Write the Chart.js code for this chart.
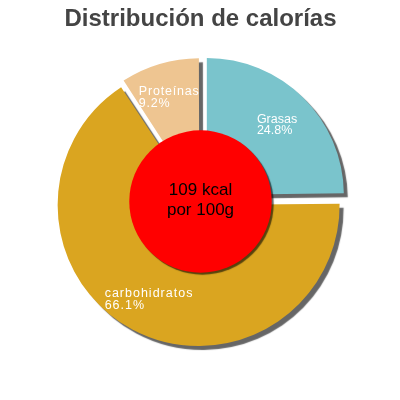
<!DOCTYPE html>
<html><head><meta charset="utf-8">
<script src="https://cdn.jsdelivr.net/npm/chart.js@4/dist/chart.umd.min.js"></script>
<style>html,body{margin:0;padding:0;background:#fff}#wrap{width:400px;height:400px}</style>
</head><body><div id="wrap"><canvas id="c" width="400" height="400"></canvas></div>
<script>
const categories = ['Grasas', 'carbohidratos', 'Proteínas'];
const percentages = [24.8, 66.1, 9.2];
const sliceColors = ['#7AC4CC', '#DAA520', '#EEC591'];
const sliceOffsets = [36, 16, 18];
const labelSpacing = [0, 1, 0.8];
const labelRadius = [0.73, 0.77, 0.77];
const centerLines = ['109 kcal', 'por 100g'];
const titleText = 'Distribución de calorías';

const FONT = '"Liberation Sans", Arial, sans-serif';

const decorPlugin = {
  id: 'decor',
  beforeDatasetsDraw(chart) {
    const ctx = chart.ctx;
    ctx.save();
    ctx.shadowColor = 'rgba(0,0,0,0.6)';
    ctx.shadowOffsetX = 4;
    ctx.shadowOffsetY = 4;
    ctx.shadowBlur = 1;
  },
  afterDatasetsDraw(chart) {
    const ctx = chart.ctx;
    ctx.restore();
    const meta = chart.getDatasetMeta(0);
    const arcs = meta.data;
    if (!arcs.length) return;
    const cx = arcs[0].x, cy = arcs[0].y, R = arcs[0].outerRadius;

    // slice labels
    arcs.forEach((arc, i) => {
      const mid = (arc.startAngle + arc.endAngle) / 2;
      const off = (arc.options.offset || 0) / 4;
      const ax = arc.x + Math.cos(mid) * off;
      const ay = arc.y + Math.sin(mid) * off;
      const r = R * labelRadius[i];
      const lx = ax + Math.cos(mid) * r;
      const ly = ay + Math.sin(mid) * r;
      const lines = [categories[i], percentages[i].toFixed(1) + '%'];
      ctx.save();
      ctx.font = '12.5px ' + FONT;
      ctx.fillStyle = '#ffffff';
      ctx.textAlign = 'left';
      ctx.textBaseline = 'alphabetic';
      ctx.letterSpacing = labelSpacing[i] + 'px';
      const w = Math.max(...lines.map(t => ctx.measureText(t).width));
      const left = lx - w / 2;
      ctx.fillText(lines[0], left, ly - 1);
      ctx.fillText(lines[1], left, ly + 10.5);
      ctx.restore();
    });

    // center circle
    ctx.save();
    ctx.shadowColor = 'rgba(0,0,0,0.6)';
    ctx.shadowOffsetX = 2;
    ctx.shadowOffsetY = 2;
    ctx.shadowBlur = 1;
    ctx.beginPath();
    ctx.arc(cx, cy, R * 0.52, 0, Math.PI * 2);
    ctx.fillStyle = '#FF0000';
    ctx.fill();
    ctx.restore();

    ctx.save();
    ctx.font = '17px ' + FONT;
    ctx.fillStyle = '#000000';
    ctx.textAlign = 'center';
    ctx.textBaseline = 'alphabetic';
    ctx.fillText(centerLines[0], cx, cy - 6.5);
    ctx.fillText(centerLines[1], cx, cy + 13.5);
    ctx.restore();
  }
};

new Chart(document.getElementById('c'), {
  type: 'pie',
  data: {
    labels: categories,
    datasets: [{
      data: percentages,
      backgroundColor: sliceColors,
      borderWidth: 0,
      offset: sliceOffsets,
      radius: 137
    }]
  },
  options: {
    responsive: false,
    animation: false,
    layout: { padding: { top: 5, bottom: 30.8, left: 1, right: 0 } },
    plugins: {
      legend: { display: false },
      tooltip: { enabled: false },
      title: {
        display: true,
        text: titleText,
        color: '#444444',
        font: { family: FONT, size: 24, weight: 'bold' },
        padding: { top: 0, bottom: 0 }
      }
    }
  },
  plugins: [decorPlugin]
});
</script>
</body></html>
